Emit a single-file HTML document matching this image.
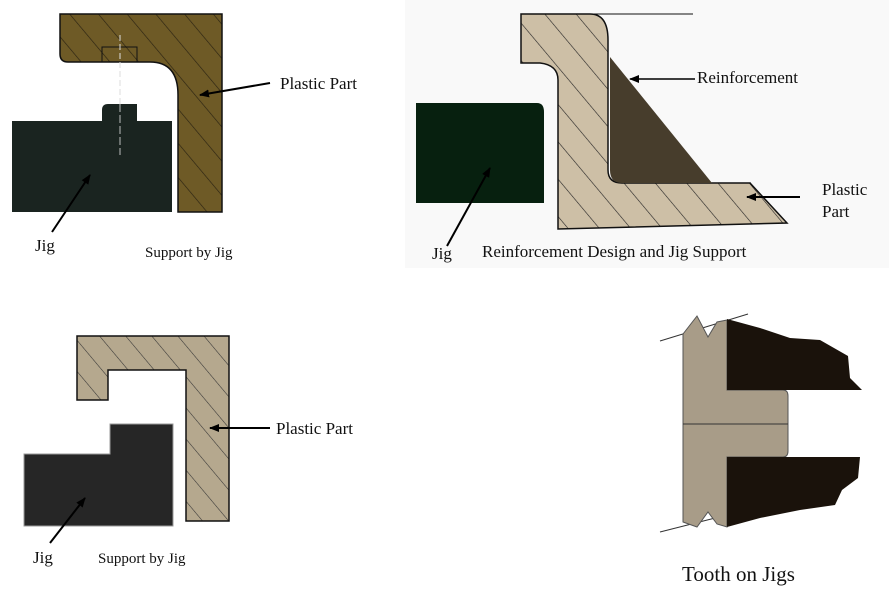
<!DOCTYPE html>
<html><head><meta charset="utf-8"><style>
html,body{margin:0;padding:0;background:#fff;}
svg{display:block;}
text{font-family:"Liberation Serif",serif;fill:#111;}
</style></head><body>
<svg width="889" height="599" viewBox="0 0 889 599" xmlns="http://www.w3.org/2000/svg">
<defs>
<pattern id="h1" patternUnits="userSpaceOnUse" width="22" height="22" patternTransform="rotate(-40)">
<rect width="22" height="22" fill="#6e5a26"/><line x1="0" y1="0" x2="0" y2="22" stroke="#2a2212" stroke-width="1.3"/></pattern>
<pattern id="h2" patternUnits="userSpaceOnUse" width="24" height="24" patternTransform="rotate(-40)">
<rect width="24" height="24" fill="#cdbfa6"/><line x1="0" y1="0" x2="0" y2="24" stroke="#222" stroke-width="1.2"/></pattern>
<pattern id="h3" patternUnits="userSpaceOnUse" width="20" height="20" patternTransform="rotate(-40)">
<rect width="20" height="20" fill="#b5a88e"/><line x1="0" y1="0" x2="0" y2="20" stroke="#333" stroke-width="1.1"/></pattern>
<marker id="ar" markerWidth="10" markerHeight="8" refX="9" refY="4" orient="auto" markerUnits="userSpaceOnUse"><path d="M0,0 L10,4 L0,8 z" fill="#000"/></marker>
</defs>
<rect x="405" y="0" width="484" height="268" fill="#f9f9f9"/>

<!-- Panel 1 -->
<path d="M60,14 H222 V212 H178 V95 Q178,62 150,62 H68 Q60,62 60,54 Z" fill="url(#h1)" stroke="#111" stroke-width="1.5"/>
<rect x="102" y="47" width="35" height="15" fill="none" stroke="#111" stroke-width="1"/>
<line x1="120" y1="35" x2="120" y2="155" stroke="#ddd" stroke-width="1" stroke-dasharray="6,3"/>
<rect x="12" y="121" width="160" height="91" fill="#1a2420"/>
<path d="M102,121 V110 Q102,104 108,104 H137 V121 Z" fill="#1a2420"/>
<line x1="120" y1="104" x2="120" y2="155" stroke="#bbb" stroke-width="1" stroke-dasharray="8,3"/>
<line x1="270" y1="83" x2="200" y2="95" stroke="#000" stroke-width="2" marker-end="url(#ar)"/>
<line x1="52" y1="232" x2="90" y2="175" stroke="#000" stroke-width="2" marker-end="url(#ar)"/>
<text x="280" y="89" font-size="17">Plastic Part</text>
<text x="35" y="251" font-size="17">Jig</text>
<text x="145" y="257" font-size="15">Support by Jig</text>

<!-- Panel 2 -->
<line x1="590" y1="14" x2="693" y2="14" stroke="#111" stroke-width="1"/>
<line x1="622" y1="183" x2="751" y2="183" stroke="#111" stroke-width="1"/>
<path d="M521,14 H590 Q608,14 608,40 V170 Q608,183 622,183 H750 L787,223 L558,229 V80 Q558,65 540,63 H521 Z" fill="url(#h2)" stroke="#111" stroke-width="1.5"/>
<path d="M610,57 L712,183 H622 Q610,183 610,170 Z" fill="#473d2c"/>
<path d="M416,103 H537 Q544,103 544,112 V203 H416 Z" fill="#07200f"/>
<line x1="695" y1="79" x2="630" y2="79" stroke="#000" stroke-width="1.5" marker-end="url(#ar)"/>
<line x1="800" y1="197" x2="747" y2="197" stroke="#000" stroke-width="2" marker-end="url(#ar)"/>
<line x1="447" y1="246" x2="490" y2="168" stroke="#000" stroke-width="2" marker-end="url(#ar)"/>
<text x="697" y="83" font-size="17">Reinforcement</text>
<text x="822" y="195" font-size="17">Plastic</text>
<text x="822" y="217" font-size="17">Part</text>
<text x="432" y="259" font-size="17">Jig</text>
<text x="482" y="257" font-size="17">Reinforcement Design and Jig Support</text>

<!-- Panel 3 -->
<path d="M77,336 H229 V521 H186 V370 H108 V400 H77 Z" fill="url(#h3)" stroke="#111" stroke-width="1.5"/>
<path d="M24,454 H110 V424 H173 V526 H24 Z" fill="#262626" stroke="#999" stroke-width="1"/>
<line x1="270" y1="428" x2="210" y2="428" stroke="#000" stroke-width="2" marker-end="url(#ar)"/>
<line x1="50" y1="543" x2="85" y2="498" stroke="#000" stroke-width="2" marker-end="url(#ar)"/>
<text x="276" y="434" font-size="17">Plastic Part</text>
<text x="33" y="563" font-size="17">Jig</text>
<text x="98" y="563" font-size="15">Support by Jig</text>

<!-- Panel 4 -->
<line x1="660" y1="341" x2="748" y2="314" stroke="#333" stroke-width="1"/>
<line x1="660" y1="532" x2="727" y2="515" stroke="#333" stroke-width="1"/>
<path d="M683,334 L697,316 L708,337 L717,322 L727,320 V390 H783 Q788,390 788,396 V451 Q788,457 783,457 H727 V527 L717,524 L708,512 L697,527 L683,522 Z" fill="#a89c88" stroke="#555" stroke-width="1"/>
<line x1="683" y1="424" x2="788" y2="424" stroke="#333" stroke-width="1"/>
<path d="M727,319 L760,328 L790,338 L820,340 L848,356 L850,378 L862,390 H727 Z" fill="#1a120b"/>
<path d="M727,457 H860 L858,478 L842,490 L835,505 L800,510 L760,518 L727,527 Z" fill="#1a120b"/>
<text x="682" y="581" font-size="21">Tooth on Jigs</text>
</svg>
</body></html>
